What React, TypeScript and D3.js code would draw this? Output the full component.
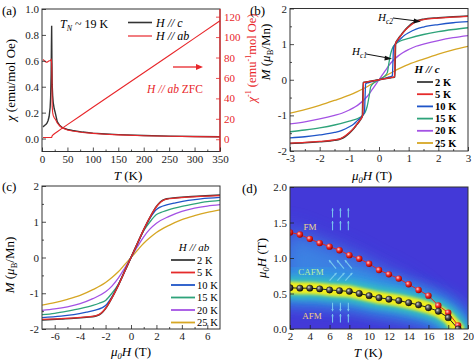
import React, { useEffect, useRef } from 'react';
import * as d3 from 'd3';

const FONT = '"Liberation Serif", "Times New Roman", Times, serif';

// ---------- (a) susceptibility vs T ----------
const tempA = [2, 5, 8, 10, 12, 14, 16, 17, 18, 18.5, 19, 19.5, 20, 21, 22, 24, 26, 30, 35, 40, 50, 60, 80, 100, 125, 150, 200, 250, 300, 350];
const chiC = [0.09, 0.1, 0.11, 0.12, 0.14, 0.17, 0.24, 0.32, 0.5, 0.7, 0.87, 0.6, 0.42, 0.33, 0.28, 0.23, 0.2, 0.13, 0.1, 0.085, 0.07, 0.062, 0.05, 0.042, 0.035, 0.03, 0.024, 0.019, 0.016, 0.014];
const chiAB = [0.61, 0.6, 0.59, 0.59, 0.595, 0.6, 0.6, 0.605, 0.61, 0.6, 0.58, 0.5, 0.25, 0.2, 0.18, 0.16, 0.15, 0.12, 0.097, 0.082, 0.066, 0.058, 0.047, 0.04, 0.033, 0.028, 0.022, 0.018, 0.015, 0.013];
const tempInv = [2, 6, 10, 14, 18, 19, 20, 22, 25, 30, 40, 50, 75, 100, 150, 200, 250, 300, 350];
const invChiAB = [1.64, 1.67, 1.68, 1.66, 1.64, 1.7, 3.3, 4.4, 5.6, 7.4, 10.9, 14.3, 22.8, 31.3, 48.2, 65.1, 82, 99, 116];

// ---------- (b) M(H), H // c (positive branch, curves are odd in H) ----------
type Pt = [number, number];
const mC2K: Pt[] = [[0, 0], [0.1, 0.015], [0.2, 0.03], [0.3, 0.045], [0.4, 0.06], [0.5, 0.07], [0.53, 0.08], [0.545, 0.5], [0.56, 1.02], [0.65, 1.15], [0.75, 1.26], [0.85, 1.37], [1.0, 1.5], [1.15, 1.6], [1.3, 1.66], [1.5, 1.7], [2, 1.74], [2.5, 1.77], [3, 1.79]];
const mC5K: Pt[] = [[0, 0], [0.1, 0.015], [0.2, 0.03], [0.3, 0.045], [0.4, 0.06], [0.5, 0.075], [0.52, 0.09], [0.535, 0.5], [0.55, 1.0], [0.65, 1.14], [0.75, 1.25], [0.85, 1.36], [1.0, 1.48], [1.15, 1.58], [1.3, 1.65], [1.5, 1.69], [2, 1.73], [2.5, 1.76], [3, 1.78]];
const mC10K: Pt[] = [[0, 0], [0.1, 0.02], [0.2, 0.045], [0.3, 0.07], [0.4, 0.09], [0.45, 0.11], [0.47, 0.5], [0.49, 0.9], [0.6, 1.05], [0.72, 1.14], [0.85, 1.24], [1.0, 1.32], [1.25, 1.42], [1.5, 1.48], [2, 1.55], [2.5, 1.6], [3, 1.63]];
const mC15K: Pt[] = [[0, 0], [0.1, 0.05], [0.2, 0.11], [0.28, 0.2], [0.33, 0.45], [0.4, 0.75], [0.47, 0.92], [0.55, 1.0], [0.7, 1.08], [1.0, 1.16], [1.5, 1.27], [2, 1.35], [2.5, 1.41], [3, 1.46]];
const mC20K: Pt[] = [[0, 0], [0.1, 0.12], [0.2, 0.24], [0.3, 0.36], [0.4, 0.47], [0.5, 0.56], [0.65, 0.67], [0.8, 0.76], [1.0, 0.85], [1.25, 0.94], [1.5, 1.0], [2, 1.1], [2.5, 1.18], [3, 1.24]];
const mC25K: Pt[] = [[0, 0], [0.25, 0.12], [0.5, 0.24], [0.75, 0.34], [1.0, 0.43], [1.5, 0.58], [2, 0.72], [2.5, 0.84], [3, 0.94]];

// ---------- (c) M(H), H // ab ----------
const mAB2K: Pt[] = [[0, 0], [0.5, 0.39], [1, 0.78], [1.5, 1.13], [2, 1.43], [2.3, 1.55], [2.5, 1.6], [2.8, 1.64], [3.5, 1.67], [4.5, 1.7], [5.5, 1.72], [7, 1.75]];
const mAB5K: Pt[] = [[0, 0], [0.5, 0.39], [1, 0.78], [1.5, 1.13], [2, 1.42], [2.3, 1.54], [2.5, 1.59], [2.8, 1.63], [3.5, 1.66], [4.5, 1.69], [5.5, 1.71], [7, 1.73]];
const mAB10K: Pt[] = [[0, 0], [0.5, 0.39], [1, 0.77], [1.5, 1.1], [2, 1.34], [2.3, 1.41], [2.8, 1.47], [3.5, 1.53], [4.5, 1.6], [5.5, 1.64], [7, 1.68]];
const mAB15K: Pt[] = [[0, 0], [0.5, 0.38], [1, 0.75], [1.5, 1.0], [2, 1.2], [2.5, 1.28], [3, 1.34], [4, 1.43], [5, 1.5], [6, 1.56], [7, 1.6]];
const mAB20K: Pt[] = [[0, 0], [0.5, 0.3], [1, 0.58], [1.5, 0.8], [2, 0.96], [3, 1.15], [4, 1.29], [5, 1.38], [6, 1.44], [7, 1.48]];
const mAB25K: Pt[] = [[0, 0], [0.5, 0.2], [1, 0.4], [1.5, 0.56], [2, 0.7], [3, 0.9], [4, 1.06], [5, 1.17], [6, 1.26], [7, 1.33]];

const tempLabels = ['2 K', '5 K', '10 K', '15 K', '20 K', '25 K'];
const curveColors = ['#3a3a3a', '#e52b2b', '#1f55c8', '#2ea37a', '#a452e4', '#d6a624'];

// ---------- (d) phase diagram ----------
const phaseT = [2, 3, 4, 5, 6, 7, 8, 9, 10, 11, 12, 13, 14, 15, 16, 17, 18, 19];
const hc2 = [1.36, 1.33, 1.27, 1.21, 1.16, 1.11, 1.04, 0.99, 0.92, 0.83, 0.77, 0.71, 0.63, 0.55, 0.47, 0.33, 0.23, 0.05];
const hc1 = [0.58, 0.575, 0.575, 0.565, 0.55, 0.54, 0.53, 0.5, 0.47, 0.44, 0.42, 0.4, 0.37, 0.34, 0.3, 0.25, 0.16, 0.0];

const oddCurve = (pos: Pt[]): Pt[] => [
  ...pos.slice(1).reverse().map(([h, m]) => [-h, -m] as Pt),
  ...pos,
];

function Axis({ axis, tx, ty, color = '#222', size = 11 }: any) {
  const ref = useRef<SVGGElement>(null);
  useEffect(() => {
    if (!ref.current) return;
    const g = d3.select(ref.current);
    g.selectAll('*').remove();
    g.call(axis);
    g.select('.domain').remove();
    g.selectAll('.tick line').attr('stroke', color).attr('stroke-width', 0.8);
    g.selectAll('.tick text').attr('fill', color).attr('font-family', FONT).attr('font-size', size);
  });
  return <g ref={ref} transform={`translate(${tx},${ty})`} />;
}

const fmtInt = (d: any) => String(d);

function PanelA() {
  const x = d3.scaleLinear().domain([0, 350]).range([42, 220]);
  const yL = d3.scaleLinear().domain([-0.1, 1.0]).range([151.5, 9]);
  const yR = d3.scaleLinear().domain([-12, 127.5]).range([151.5, 9]);
  const lineL = (ys: number[]) =>
    d3.line<number>().x((_, i) => x(tempA[i])).y((d) => yL(d))(ys) || '';
  const lineInv = d3.line<number>().x((_, i) => x(tempInv[i])).y((d) => yR(d))(invChiAB) || '';
  return (
    <g>
      <path d={lineL(chiC)} fill="none" stroke="#333" strokeWidth={1.4} />
      <path d={lineL(chiAB)} fill="none" stroke="#e8262a" strokeWidth={1.1} />
      <path d={lineInv} fill="none" stroke="#e8262a" strokeWidth={1.1} />
      <rect x={42} y={9} width={178} height={142.5} fill="none" stroke="#333" strokeWidth={1} />
      <line x1={220} x2={220} y1={9} y2={151.5} stroke="#e8262a" strokeWidth={1.2} />
      <Axis axis={d3.axisBottom(x).tickValues(d3.range(0, 351, 50)).tickFormat(fmtInt).tickSizeInner(-4).tickSizeOuter(0).tickPadding(4)} tx={0} ty={151.5} />
      <Axis axis={d3.axisBottom(x).tickValues(d3.range(25, 350, 50)).tickFormat(() => '').tickSizeInner(-2).tickSizeOuter(0)} tx={0} ty={151.5} />
      <Axis axis={d3.axisLeft(yL).tickValues(d3.range(0, 1.01, 0.2)).tickFormat(d3.format('.1f')).tickSizeInner(-4).tickSizeOuter(0).tickPadding(3)} tx={42} ty={0} />
      <Axis axis={d3.axisRight(yR).tickValues(d3.range(0, 121, 20)).tickFormat(fmtInt).tickSizeInner(-4).tickSizeOuter(0).tickPadding(4)} tx={220} ty={0} color="#e8262a" />
      {/* legend */}
      <line x1={128} x2={152} y1={22.5} y2={22.5} stroke="#333" strokeWidth={1.6} />
      <text x={156} y={26.5} fontFamily={FONT} fontSize={12} fontStyle="italic">H // c</text>
      <line x1={128} x2={152} y1={36} y2={36} stroke="#e8262a" strokeWidth={1.2} />
      <text x={156} y={40} fontFamily={FONT} fontSize={12} fontStyle="italic">H // ab</text>
      <text x={60} y={28} fontFamily={FONT} fontSize={12}>
        <tspan fontStyle="italic">T</tspan>
        <tspan fontStyle="italic" fontSize={8} dy={3}>N</tspan>
        <tspan dy={-3}> ~ 19 K</tspan>
      </text>
      {/* arrow pointing to right axis */}
      <line x1={173} x2={198} y1={67} y2={67} stroke="#e8262a" strokeWidth={1.3} />
      <path d="M196,64 L203,67 L196,70 Z" fill="#e8262a" />
      <text x={147} y={93} fontFamily={FONT} fontSize={11.5} fill="#e8262a">
        <tspan fontStyle="italic">H // ab</tspan>
        <tspan>  ZFC</tspan>
      </text>
      {/* axis titles */}
      <text transform="translate(15,80) rotate(-90)" textAnchor="middle" fontFamily={FONT} fontSize={13}>
        <tspan fontStyle="italic">χ</tspan> (emu/mol Oe)
      </text>
      <text transform="translate(256,58) rotate(-90)" textAnchor="middle" fontFamily={FONT} fontSize={12.5} fill="#e8262a">
        <tspan fontStyle="italic">χ</tspan>
        <tspan fontSize={8} dy={-5}>-1</tspan>
        <tspan dy={5}> (emu</tspan>
        <tspan fontSize={8} dy={-5}>-1</tspan>
        <tspan dy={5}>mol Oe)</tspan>
      </text>
      <text x={128} y={180} textAnchor="middle" fontFamily={FONT} fontSize={13}>
        <tspan fontStyle="italic">T</tspan> (K)
      </text>
      <text x={2} y={15} fontFamily={FONT} fontSize={13}>(a)</text>
    </g>
  );
}

function MuLabel({ x, y, rotate = false, size = 13 }: any) {
  return (
    <text
      transform={rotate ? `translate(${x},${y}) rotate(-90)` : `translate(${x},${y})`}
      textAnchor="middle"
      fontFamily={FONT}
      fontSize={size}
    >
      <tspan fontStyle="italic">μ</tspan>
      <tspan fontStyle="italic" fontSize={size * 0.65} dy={3}>0</tspan>
      <tspan fontStyle="italic" dy={-3}>H</tspan> (T)
    </text>
  );
}

function MLabel({ x, y }: any) {
  return (
    <text transform={`translate(${x},${y}) rotate(-90)`} textAnchor="middle" fontFamily={FONT} fontSize={13}>
      <tspan fontStyle="italic">M</tspan> (<tspan fontStyle="italic">μ</tspan>
      <tspan fontSize={8.5} dy={3}>B</tspan>
      <tspan dy={-3}>/Mn)</tspan>
    </text>
  );
}

function MPanel({ curves, hMax, box, xTicks, xMinor, legend }: any) {
  const x = d3.scaleLinear().domain([-hMax, hMax]).range([box.x0, box.x1]);
  const y = d3.scaleLinear().domain([-2, 2]).range([box.y1, box.y0]);
  const line = d3.line<Pt>().x((d) => x(d[0])).y((d) => y(d[1])).curve(d3.curveMonotoneX);
  const order = [5, 4, 3, 2, 0, 1];
  return (
    <g>
      <defs>
        <clipPath id={`clip-${box.x0}-${box.y0}`}>
          <rect x={box.x0} y={box.y0} width={box.x1 - box.x0} height={box.y1 - box.y0} />
        </clipPath>
      </defs>
      <g clipPath={`url(#clip-${box.x0}-${box.y0})`}>
        {order.map((i) => (
          <path key={i} d={line(oddCurve(curves[i])) || ''} fill="none" stroke={curveColors[i]} strokeWidth={i === 0 ? 1.6 : 1.3} />
        ))}
      </g>
      <rect x={box.x0} y={box.y0} width={box.x1 - box.x0} height={box.y1 - box.y0} fill="none" stroke="#333" strokeWidth={1} />
      <Axis axis={d3.axisBottom(x).tickValues(xTicks).tickFormat(fmtInt).tickSizeInner(-4).tickSizeOuter(0).tickPadding(3)} tx={0} ty={box.y1} />
      <Axis axis={d3.axisBottom(x).tickValues(xMinor).tickFormat(() => '').tickSizeInner(-2).tickSizeOuter(0)} tx={0} ty={box.y1} />
      <Axis axis={d3.axisLeft(y).tickValues([-2, -1, 0, 1, 2]).tickFormat(fmtInt).tickSizeInner(-4).tickSizeOuter(0).tickPadding(3)} tx={box.x0} ty={0} />
      <Axis axis={d3.axisLeft(y).tickValues([-1.5, -0.5, 0.5, 1.5]).tickFormat(() => '').tickSizeInner(-2).tickSizeOuter(0)} tx={box.x0} ty={0} />
      <text x={legend.tx} y={legend.ty} textAnchor="middle" fontFamily={FONT} fontSize={11} fontStyle="italic" fontWeight={legend.bold ? 'bold' : 'normal'}>
        {legend.title}
      </text>
      {tempLabels.map((t, i) => (
        <g key={t}>
          <line x1={legend.lx0} x2={legend.lx1} y1={legend.y0 + i * legend.dy} y2={legend.y0 + i * legend.dy} stroke={curveColors[i]} strokeWidth={1.8} />
          <text x={legend.lx1 + 2} y={legend.y0 + i * legend.dy + 3.5} fontFamily={FONT} fontSize={10.5} fontWeight={legend.bold ? 'bold' : 'normal'}>
            {t}
          </text>
        </g>
      ))}
    </g>
  );
}

function SpinArrow({ x1, y1, x2, y2 }: any) {
  const a = Math.atan2(y2 - y1, x2 - x1);
  const h = 2.6;
  const p1 = [x2 - h * Math.cos(a - 0.5), y2 - h * Math.sin(a - 0.5)];
  const p2 = [x2 - h * Math.cos(a + 0.5), y2 - h * Math.sin(a + 0.5)];
  return (
    <g opacity={0.9}>
      <line x1={x1} y1={y1} x2={x2} y2={y2} stroke="#7fd0f0" strokeWidth={1.1} />
      <path d={`M${x2},${y2} L${p1[0]},${p1[1]} L${p2[0]},${p2[1]} Z`} fill="#7fd0f0" />
    </g>
  );
}

function PanelD() {
  const box = { x0: 290, x1: 468, y0: 187, y1: 329 };
  const x = d3.scaleLinear().domain([2, 20]).range([box.x0, box.x1]);
  const y = d3.scaleLinear().domain([0, 2]).range([box.y1, box.y0]);
  const pts1 = phaseT.map((t, i) => [t, hc1[i]] as Pt);
  const pts2 = phaseT.map((t, i) => [t, hc2[i]] as Pt);
  const line = d3.line<Pt>().x((d) => x(d[0])).y((d) => y(d[1]));
  const area = d3.area<number>().x((t) => x(t)).y0((_, i) => y(hc1[i])).y1((_, i) => y(hc2[i]));
  const cols = [6.3, 7.1, 7.9];
  return (
    <g>
      <defs>
        <clipPath id="clipD">
          <rect x={box.x0} y={box.y0} width={box.x1 - box.x0} height={box.y1 - box.y0} />
        </clipPath>
        <filter id="blurHuge" x="-50%" y="-50%" width="200%" height="200%"><feGaussianBlur stdDeviation={14} /></filter>
        <filter id="blurBig" x="-50%" y="-50%" width="200%" height="200%"><feGaussianBlur stdDeviation={8} /></filter>
        <filter id="blurMid" x="-50%" y="-50%" width="200%" height="200%"><feGaussianBlur stdDeviation={3.5} /></filter>
        <filter id="blurSm" x="-50%" y="-50%" width="200%" height="200%"><feGaussianBlur stdDeviation={1.6} /></filter>
        <radialGradient id="redBall" cx="35%" cy="35%" r="65%">
          <stop offset="0%" stopColor="#ffd6d6" />
          <stop offset="45%" stopColor="#f03030" />
          <stop offset="100%" stopColor="#a00000" />
        </radialGradient>
        <radialGradient id="blackBall" cx="35%" cy="35%" r="65%">
          <stop offset="0%" stopColor="#d8d8d8" />
          <stop offset="45%" stopColor="#555" />
          <stop offset="100%" stopColor="#111" />
        </radialGradient>
      </defs>
      <g clipPath="url(#clipD)">
        <rect x={box.x0} y={box.y0} width={box.x1 - box.x0} height={box.y1 - box.y0} fill="#4339d8" />
        <path d={area(phaseT) || ''} fill="#3a8ee4" opacity={0.75} filter="url(#blurHuge)" transform="translate(-12,0)" />
        <path d={area(phaseT) || ''} fill="#3a8ee4" opacity={0.6} filter="url(#blurBig)" />
        <path d={line(pts1) || ''} fill="none" stroke="#2aa8e4" strokeWidth={34} strokeLinecap="round" opacity={0.85} filter="url(#blurBig)" />
        <path d={line(pts1) || ''} fill="none" stroke="#38c4b8" strokeWidth={20} strokeLinecap="round" filter="url(#blurMid)" />
        <path d={line(pts1) || ''} fill="none" stroke="#f2ee1c" strokeWidth={12} strokeLinecap="round" filter="url(#blurSm)" />
        <path d={line(pts2) || ''} fill="none" stroke="#e02424" strokeWidth={1} />
        <path d={line(pts1) || ''} fill="none" stroke="#222" strokeWidth={1} />
        {phaseT.map((t, i) => (
          <circle key={'r' + t} cx={x(t)} cy={y(hc2[i])} r={3.2} fill="url(#redBall)" />
        ))}
        {phaseT.map((t, i) => (
          <circle key={'b' + t} cx={x(t)} cy={y(hc1[i])} r={3.2} fill="url(#blackBall)" stroke="#000" strokeWidth={0.4} />
        ))}
        {/* spin cartoons */}
        {cols.map((c) => (
          <g key={'fm' + c}>
            <SpinArrow x1={x(c)} y1={y(1.57)} x2={x(c)} y2={y(1.7)} />
            <SpinArrow x1={x(c)} y1={y(1.39)} x2={x(c)} y2={y(1.52)} />
            <SpinArrow x1={x(c) + 3.5} y1={y(0.85)} x2={x(c) - 3.5} y2={y(0.97)} />
            <SpinArrow x1={x(c) - 3} y1={y(0.68)} x2={x(c) + 4} y2={y(0.79)} />
            <SpinArrow x1={x(c)} y1={y(0.37)} x2={x(c)} y2={y(0.25)} />
            <SpinArrow x1={x(c)} y1={y(0.09)} x2={x(c)} y2={y(0.21)} />
          </g>
        ))}
        <text x={310} y={230} textAnchor="middle" fontFamily={FONT} fontSize={9} fill="#f0d890">FM</text>
        <text x={311} y={274.5} textAnchor="middle" fontFamily={FONT} fontSize={9} fill="#b8f0a0">CAFM</text>
        <text x={312} y={318.5} textAnchor="middle" fontFamily={FONT} fontSize={9} fill="#f0d080">AFM</text>
      </g>
      <rect x={box.x0} y={box.y0} width={box.x1 - box.x0} height={box.y1 - box.y0} fill="none" stroke="#333" strokeWidth={1} />
      <Axis axis={d3.axisBottom(x).tickValues(d3.range(2, 21, 2)).tickFormat(fmtInt).tickSizeInner(-4).tickSizeOuter(0).tickPadding(3)} tx={0} ty={box.y1} />
      <Axis axis={d3.axisLeft(y).tickValues([0, 0.5, 1, 1.5, 2]).tickFormat(d3.format('.1f')).tickSizeInner(-4).tickSizeOuter(0).tickPadding(3)} tx={box.x0} ty={0} />
      <MuLabel x={266} y={258} rotate size={13} />
      <text x={368} y={357} textAnchor="middle" fontFamily={FONT} fontSize={13}>
        <tspan fontStyle="italic">T</tspan> (K)
      </text>
      <text x={242} y={193} fontFamily={FONT} fontSize={13}>(d)</text>
    </g>
  );
}

export default function App() {
  const curvesB = [mC2K, mC5K, mC10K, mC15K, mC20K, mC25K];
  const curvesC = [mAB2K, mAB5K, mAB10K, mAB15K, mAB20K, mAB25K];
  return (
    <svg width={474} height={362} style={{ position: 'absolute', left: 0, top: 0, background: '#fff' }}>
      <rect width={474} height={362} fill="#fff" />
      <PanelA />
      <MPanel
        curves={curvesB}
        hMax={3}
        box={{ x0: 290, x1: 468, y0: 8.5, y1: 151 }}
        xTicks={[-3, -2, -1, 0, 1, 2, 3]}
        xMinor={[-2.5, -1.5, -0.5, 0.5, 1.5, 2.5]}
        legend={{ title: 'H // c', tx: 427, ty: 73, lx0: 417, lx1: 433, y0: 82, dy: 12.2, bold: true }}
      />
      {/* (b) annotations */}
      <text x={378} y={21} fontFamily={FONT} fontSize={11} fontStyle="italic">
        H<tspan fontSize={7.5} dy={3}>c2</tspan>
      </text>
      <line x1={393} y1={18} x2={417} y2={21} stroke="#111" strokeWidth={1} />
      <path d="M421,21.5 L414,18.6 L413.6,23.4 Z" fill="#111" />
      <text x={352} y={55} fontFamily={FONT} fontSize={11} fontStyle="italic">
        H<tspan fontSize={7.5} dy={3}>c1</tspan>
      </text>
      <line x1={366} y1={54} x2={388} y2={58} stroke="#111" strokeWidth={1} />
      <path d="M392,58.8 L385,55.8 L384.4,60.6 Z" fill="#111" />
      <MLabel x={270} y={52} />
      <MuLabel x={372} y={180} />
      <text x={250} y={15} fontFamily={FONT} fontSize={13}>(b)</text>

      <MPanel
        curves={curvesC}
        hMax={7}
        box={{ x0: 42, x1: 220, y0: 186, y1: 329 }}
        xTicks={[-6, -4, -2, 0, 2, 4, 6]}
        xMinor={[-5, -3, -1, 1, 3, 5]}
        legend={{ title: 'H // ab', tx: 194, ty: 251, lx0: 171, lx1: 195, y0: 260, dy: 12.5, bold: false }}
      />
      <MLabel x={14} y={265} />
      <MuLabel x={131} y={356} />
      <text x={2} y={191} fontFamily={FONT} fontSize={13}>(c)</text>

      <PanelD />
    </svg>
  );
}
